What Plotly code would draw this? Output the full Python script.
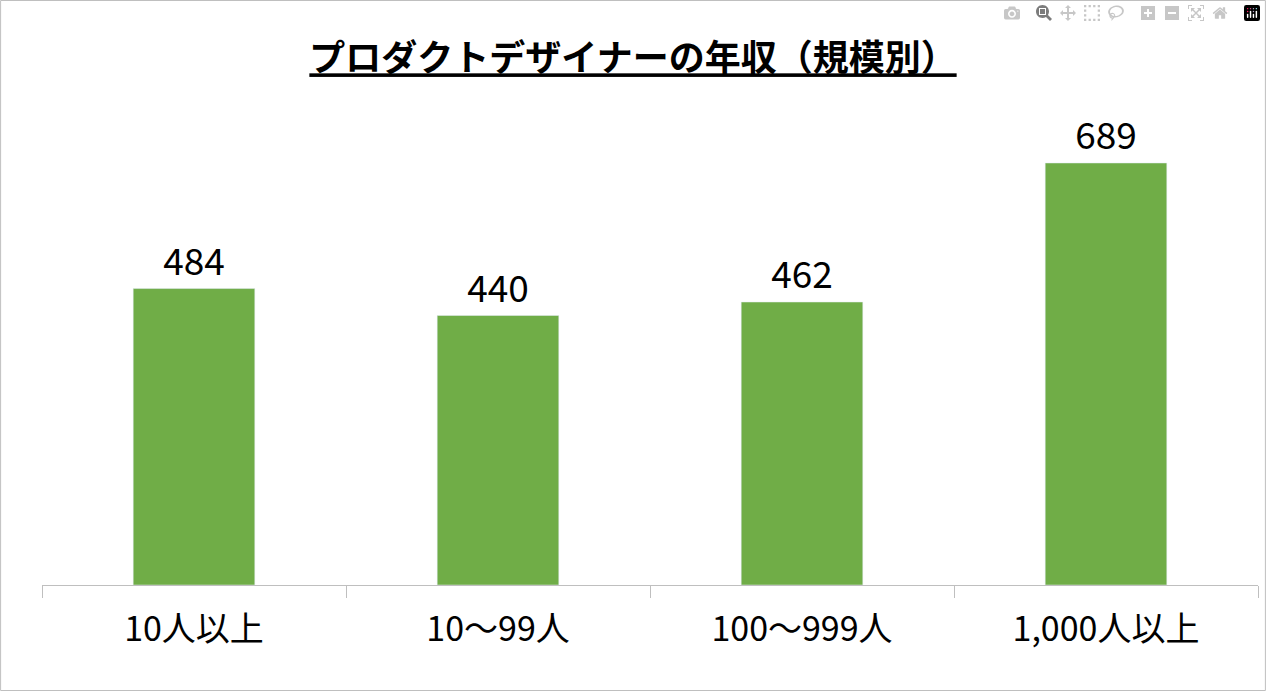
import plotly.graph_objects as go

categories = ["10人以上", "10～99人", "100～999人", "1,000人以上"]
values = [484, 440, 462, 689]

W, H = 1266, 691
ml, mr, mt, mb = 42, 8, 100, 106
pw, ph = W - ml - mr, H - mt - mb

fig = go.Figure(go.Bar(
    x=categories, y=values, marker_color="#70AD47", width=0.4,
    text=[str(v) for v in values], textposition="outside",
    textfont=dict(size=37, color="black"), cliponaxis=False))

fig.update_layout(
    width=W, height=H, margin=dict(l=ml, r=mr, t=mt, b=mb),
    paper_bgcolor="white", plot_bgcolor="white",
    font=dict(family="Noto Sans CJK JP", color="black"),
    title=dict(text="<b><u>プロダクトデザイナーの年収（規模別）</u></b>",
               x=0.5, xanchor="center", y=0.915, yanchor="middle",
               font=dict(size=36, color="black")),
    showlegend=False,
    xaxis=dict(showline=True, linecolor="#BFBFBF", linewidth=1,
               ticks="outside", tickson="boundaries", ticklen=12, tickcolor="#BFBFBF",
               tickfont=dict(size=34), ticklabelstandoff=14),
    yaxis=dict(visible=False, range=[0, ph / 0.6125]),
    shapes=[dict(type="rect", xref="paper", yref="paper",
                 x0=-ml / pw + 0.0005, x1=1 + mr / pw - 0.0005,
                 y0=-mb / ph + 0.001, y1=1 + mt / ph - 0.001,
                 line=dict(color="#BFBFBF", width=1))],
)
fig.write_html("out.html", post_script="document.body.style.margin='0';document.body.style.overflow='hidden';")
